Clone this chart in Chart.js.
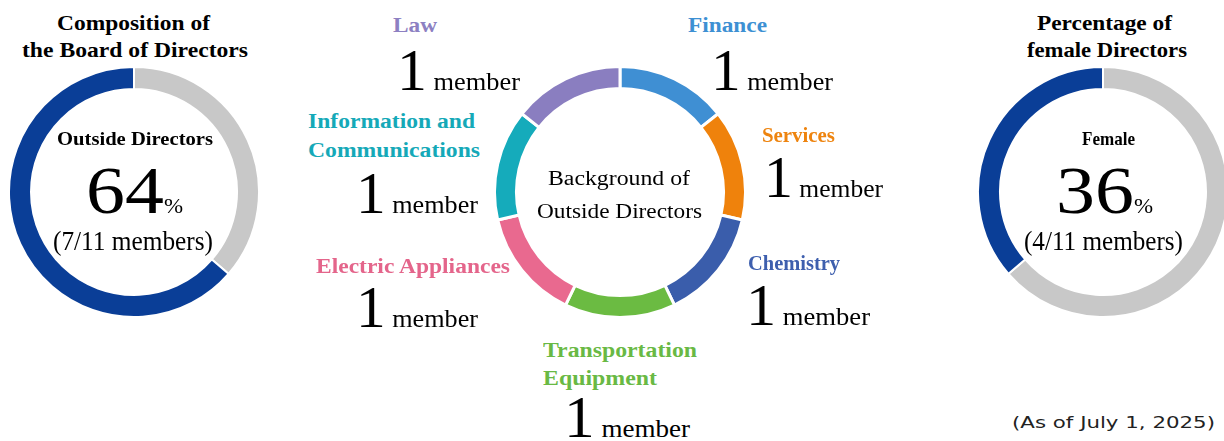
<!DOCTYPE html>
<html><head><meta charset="utf-8">
<script src="https://cdn.jsdelivr.net/npm/chart.js@4.4.0/dist/chart.umd.min.js"></script>
<style>
html,body{margin:0;padding:0;background:#fff;width:1224px;height:441px;overflow:hidden;position:relative}
canvas{position:absolute}
.t{position:absolute;left:0;top:0;white-space:nowrap;font-family:'Liberation Serif','Times New Roman',serif;color:#000;transform-origin:0 0;line-height:normal}
.b{font-weight:bold}
</style></head><body>
<canvas id="board" width="252" height="252" style="left:8px;top:66px"></canvas>
<canvas id="background" width="254" height="254" style="left:493px;top:65px"></canvas>
<canvas id="female" width="252" height="252" style="left:977px;top:66px"></canvas>
<script>
// ---- data ----
const boardLabels = ['Inside Directors', 'Outside Directors'];
const boardMembers = [4, 7];
const genderLabels = ['Male', 'Female'];
const genderMembers = [7, 4];
const backgroundCategories = ['Finance', 'Services', 'Chemistry', 'Transportation Equipment', 'Electric Appliances', 'Information and Communications', 'Law'];
const backgroundMembers = [1, 1, 1, 1, 1, 1, 1];
const asOfDate = 'July 1, 2025';

// ---- styles ----
const NAVY = '#0a3e97', GRAY = '#c8c8c8';
const segColors = ['#3f8fd3', '#ef820c', '#3a5dab', '#6bbb42', '#e9698f', '#15abbb', '#8a7ec0'];
const txtColors = ['#3d90d3', '#ee840f', '#3e5fae', '#69b944', '#e4658b', '#15a9b8', '#8d80c2'];

function ring(id, labels, data, colors, cutout, bw) {
  return new Chart(document.getElementById(id), {
    type: 'doughnut',
    data: { labels, datasets: [{ data, backgroundColor: colors, borderColor: '#ffffff', borderWidth: bw, hoverOffset: 0 }] },
    options: {
      responsive: false, animation: false, devicePixelRatio: 1, cutout: cutout, rotation: 0,
      layout: { padding: 0 }, events: [],
      plugins: { legend: { display: false }, tooltip: { enabled: false } }
    }
  });
}
ring('board', boardLabels, boardMembers, [GRAY, NAVY], '82.4%', 2);
ring('background', backgroundCategories, backgroundMembers, segColors, '82.5%', 3);
ring('female', genderLabels, genderMembers, [GRAY, NAVY], '82.4%', 2);

// ---- text ----
function mk(parts, cls, color) {
  const d = document.createElement('div');
  d.className = 't ' + (cls || '');
  if (color) d.style.color = color;
  parts.forEach(p => {
    const s = document.createElement('span');
    s.textContent = p[0];
    if (p[1]) s.style.fontSize = p[1] + 'px';
    if (p[2]) s.style.fontFamily = p[2];
    d.appendChild(s);
  });
  document.body.appendChild(d);
  return d;
}
function place(el, x, bl, align, w) {
  const m = document.createElement('span');
  m.style.cssText = 'display:inline-block;width:0;height:0;vertical-align:baseline';
  el.appendChild(m);
  const r = el.getBoundingClientRect();
  const nat = r.width;
  const b = m.getBoundingClientRect().top - r.top;
  const s = w ? w / nat : 1;
  const left = align === 'center' ? x - nat * s / 2 : align === 'right' ? x - nat * s : x;
  el.style.left = left + 'px';
  el.style.top = (bl - b) + 'px';
  el.style.transform = 'scaleX(' + s + ')';
}
const total = a => a.reduce((p, c) => p + c, 0);

function build() {
  const nB = total(boardMembers), outside = boardMembers[1];
  const nG = total(genderMembers), female = genderMembers[1];

  // left panel
  place(mk([['Composition of', 22]], 'b'), 133.5, 30, 'center', 153);
  place(mk([['the Board of Directors', 22]], 'b'), 135, 57, 'center', 226);
  place(mk([[boardLabels[1], 19]], 'b'), 135, 145, 'center', 156);
  place(mk([[String(Math.round(outside / nB * 100)), 68], ['%', 20]]), 86, 213, 'left', 97);
  place(mk([['(' + outside + '/' + nB + ' members)', 27]]), 133, 250, 'center', 160);

  // right panel
  place(mk([['Percentage of', 22]], 'b'), 1104, 30, 'center', 135);
  place(mk([['female Directors', 22]], 'b'), 1107, 57, 'center', 160);
  place(mk([[genderLabels[1], 19]], 'b'), 1108, 145, 'center', 53);
  place(mk([[String(Math.round(female / nG * 100)), 68], ['%', 20]]), 1056, 213, 'left', 97);
  place(mk([['(' + female + '/' + nG + ' members)', 27]]), 1103, 250, 'center', 159);

  // middle centre
  place(mk([['Background of', 20]]), 619, 185, 'center', 142);
  place(mk([['Outside Directors', 20]]), 619, 218, 'center', 165);

  // category labels: title lines [text, cx, baseline, width], member group [left, baseline, width]
  const layout = {
    'Finance': { lines: [['Finance', 727, 32, 79]], mem: [711, 90, 122] },
    'Services': { lines: [['Services', 798, 142, 73]], mem: [764, 197, 119] },
    'Chemistry': { lines: [['Chemistry', 794, 270, 92]], mem: [746, 325, 124] },
    'Transportation Equipment': { lines: [['Transportation', 620, 357, 154], ['Equipment', 600, 385, 114]], mem: [564, 437, 126] },
    'Electric Appliances': { lines: [['Electric Appliances', 413, 273, 194]], mem: [356, 327, 122] },
    'Information and Communications': { lines: [['Information and', 391, 128, 167], ['Communications', 394, 157, 172]], mem: [356, 213, 122] },
    'Law': { lines: [['Law', 415, 32, 44]], mem: [397, 90, 123] }
  };
  backgroundCategories.forEach((cat, i) => {
    const L = layout[cat];
    L.lines.forEach(l => place(mk([[l[0], 20]], 'b', txtColors[i]), l[1], l[2], 'center', l[3]));
    const n = backgroundMembers[i];
    place(mk([[String(n), 59], [' ' + (n === 1 ? 'member' : 'members'), 26]]), L.mem[0], L.mem[1], 'left', L.mem[2]);
  });

  // footer
  const f = mk([['(As of ' + asOfDate + ')', 16.5, "'DejaVu Sans', Verdana, sans-serif"]]);
  f.style.color = '#222';
  place(f, 1113, 428, 'center', 203);
}
if (document.fonts && document.fonts.ready) document.fonts.ready.then(build); else build();
</script>
</body></html>
